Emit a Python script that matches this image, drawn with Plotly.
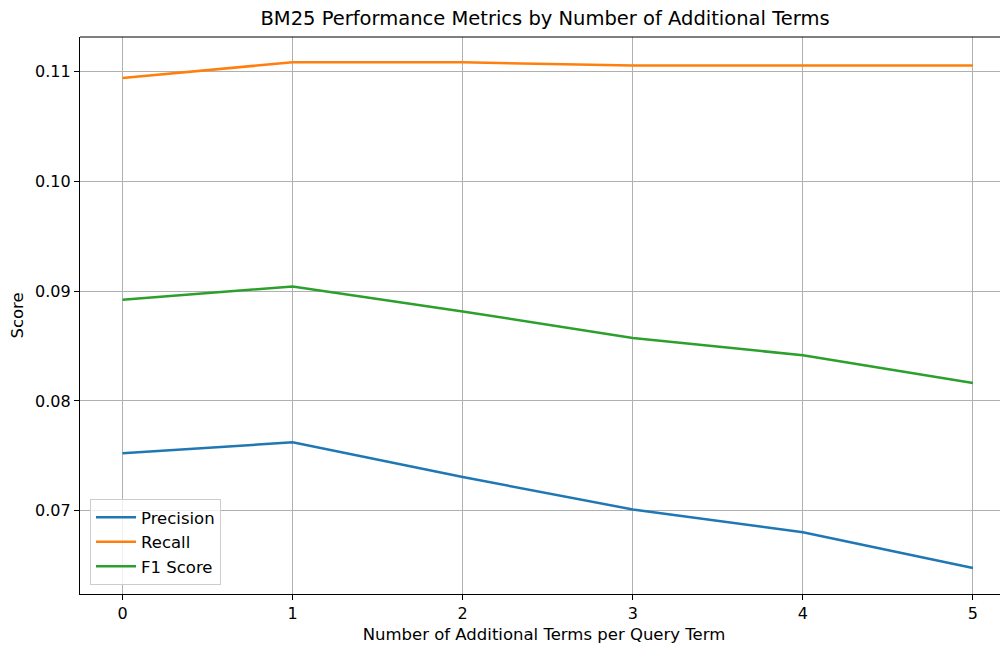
import plotly.graph_objects as go

terms = [0, 1, 2, 3, 4, 5]
precision = [0.07525, 0.07623, 0.07307, 0.07012, 0.06805, 0.06478]
recall = [0.10942, 0.11085, 0.11085, 0.11055, 0.11055, 0.11055]
f1_score = [0.08922, 0.09043, 0.08815, 0.08574, 0.08416, 0.08164]
y_ticks = [0.07, 0.08, 0.09, 0.10, 0.11]
y_tick_labels = ["0.07", "0.08", "0.09", "0.10", "0.11"]

series = [("Precision", precision, "#1f77b4"),
          ("Recall", recall, "#ff7f0e"),
          ("F1 Score", f1_score, "#2ca02c")]

fig = go.Figure()
for name, vals, color in series:
    fig.add_trace(go.Scatter(x=terms, y=vals, mode="lines", name=name,
                             line=dict(color=color, width=2.5)))

font = "DejaVu Sans"
fig.update_layout(
    width=1000, height=638,
    margin=dict(l=72, r=0, t=29, b=52, autoexpand=False),
    paper_bgcolor="white", plot_bgcolor="white",
    font=dict(family=font, size=16, color="black"),
    title=dict(text="BM25 Performance Metrics by Number of Additional Terms",
               x=0.537, xref="container", xanchor="center", y=0.984, yanchor="middle",
               font=dict(size=19.5, family=font, color="black")),
    showlegend=True,
    legend=dict(x=0.0108, y=0.016, xanchor="left", yanchor="bottom",
                bgcolor="rgba(255,255,255,0.8)", bordercolor="#cccccc", borderwidth=1,
                font=dict(size=16.5, family=font), tracegroupgap=0,
                itemwidth=40),
)
fig.update_xaxes(range=[-0.25, 5.206], tickvals=terms, ticktext=[str(t) for t in terms],
                 showgrid=True, gridcolor="#b0b0b0", gridwidth=1.2,
                 showline=True, linecolor="black", linewidth=1.2,
                 ticks="outside", ticklen=5, tickcolor="black", zeroline=False,
                 tickfont=dict(size=16),
                 title=dict(text="Number of Additional Terms per Query Term", standoff=6,
                            font=dict(size=16.5)))
fig.update_yaxes(range=[0.06242, 0.11315], tickvals=y_ticks, ticktext=y_tick_labels,
                 showgrid=True, gridcolor="#b0b0b0", gridwidth=1.2,
                 showline=True, linecolor="black", linewidth=1.2,
                 ticks="outside", ticklen=5, tickcolor="black", zeroline=False,
                 tickfont=dict(size=16),
                 title=dict(text="Score", standoff=7, font=dict(size=16.5)))
fig.add_shape(type="line", xref="paper", yref="paper", x0=0, x1=1, y0=1, y1=1,
              line=dict(color="black", width=1.2))

fig.write_html("out.html")
